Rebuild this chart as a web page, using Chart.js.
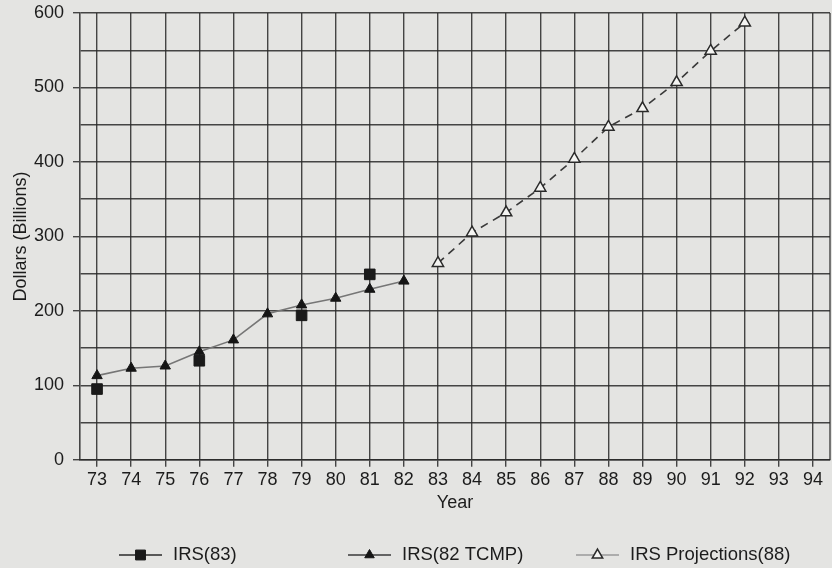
<!DOCTYPE html>
<html>
<head>
<meta charset="utf-8">
<title>IRS estimates</title>
<script src="https://cdn.jsdelivr.net/npm/chart.js@4.4.1/dist/chart.umd.min.js"></script>
<style>
  html, body { margin: 0; padding: 0; background: #e4e4e2; }
  #wrap { width: 832px; height: 568px; }
</style>
</head>
<body>
<div id="wrap"><canvas id="chart" width="832" height="568"></canvas></div>
<script>
// years on the x axis (19xx)
const years = ['73', '74', '75', '76', '77', '78', '79', '80', '81', '82', '83',
               '84', '85', '86', '87', '88', '89', '90', '91', '92', '93', '94'];

// IRS(83) estimates, only a few years
const irs83 = [95, null, null, 133, null, null, 194, null, 249, null, null,
               null, null, null, null, null, null, null, null, null, null, null];

// IRS(82 TCMP) series
const irsTcmp = [113, 123, 126, 145, 161, 196, 208, 217, 229, 240, null,
                 null, null, null, null, null, null, null, null, null, null, null];

// IRS Projections(88)
const irsProj = [null, null, null, null, null, null, null, null, null, null, 264,
                 305, 332, 365, 404, 447, 472, 507, 549, 587, null, null];

// labelled values on the y axis (grid every 50)
const yLabels = [0, 100, 200, 300, 400, 500, 600];

const FONT = '"Liberation Sans", Arial, Helvetica, sans-serif';
const INK = '#1c1c1c';
const GRID = 'rgba(40, 40, 40, 0.85)';

// drop the room chart.js keeps for overhanging end labels
function noOverhang(s) {
    s.paddingLeft = 0;
    s.paddingRight = 0;
    s.paddingTop = 0;
    s.paddingBottom = 0;
}

// frame on the right side of the plot + legend drawn under the axis
const paperPlugin = {
    id: 'paper',
    beforeDatasetsDraw(chart) {
        const { ctx, chartArea } = chart;
        ctx.save();
        ctx.strokeStyle = GRID;
        ctx.lineWidth = 1.4;
        ctx.beginPath();
        ctx.moveTo(chartArea.right, chartArea.top);
        ctx.lineTo(chartArea.right, chartArea.bottom);
        ctx.stroke();
        ctx.restore();
    },
    afterDraw(chart) {
        const ctx = chart.ctx;
        const textX = [173, 402, 630];
        const y = 555;
        ctx.save();
        ctx.font = '18.5px ' + FONT;
        ctx.textBaseline = 'middle';
        ctx.textAlign = 'left';
        chart.data.datasets.forEach((ds, i) => {
            const x1 = textX[i] - 54;
            const x2 = textX[i] - 11;
            ctx.strokeStyle = ds.legendLine;
            ctx.lineWidth = 1.6;
            ctx.setLineDash([]);
            ctx.beginPath();
            ctx.moveTo(x1, y);
            ctx.lineTo(x2, y);
            ctx.stroke();

            ctx.fillStyle = ds.pointBackgroundColor;
            ctx.strokeStyle = ds.pointBorderColor;
            ctx.lineWidth = ds.pointBorderWidth;
            Chart.helpers.drawPoint(ctx, {
                pointStyle: ds.pointStyle,
                radius: ds.pointRadius - 0.5,
                rotation: 0,
                borderWidth: ds.pointBorderWidth
            }, (x1 + x2) / 2, y);

            ctx.fillStyle = INK;
            ctx.fillText(ds.label, textX[i], y);
        });
        ctx.restore();
    }
};

const ctx = document.getElementById('chart').getContext('2d');

new Chart(ctx, {
    type: 'line',
    data: {
        labels: years,
        datasets: [
            {
                label: 'IRS(83)',
                data: irs83,
                showLine: false,
                pointStyle: 'rect',
                pointRadius: 7.5,
                pointBackgroundColor: '#1a1a1a',
                pointBorderColor: '#1a1a1a',
                pointBorderWidth: 1,
                borderColor: '#2a2a2a',
                legendLine: '#2a2a2a'
            },
            {
                label: 'IRS(82 TCMP)',
                data: irsTcmp,
                borderColor: '#767676',
                borderWidth: 1.6,
                pointStyle: 'triangle',
                pointRadius: 6,
                pointBackgroundColor: '#151515',
                pointBorderColor: '#151515',
                pointBorderWidth: 1,
                tension: 0,
                legendLine: '#3a3a3a'
            },
            {
                label: 'IRS Projections(88)',
                data: irsProj,
                borderColor: '#3a3a3a',
                borderWidth: 1.6,
                borderDash: [8, 6],
                pointStyle: 'triangle',
                pointRadius: 6.5,
                pointBackgroundColor: '#f4f4f2',
                pointBorderColor: '#2a2a2a',
                pointBorderWidth: 1.5,
                tension: 0,
                legendLine: '#9a9a9a'
            }
        ]
    },
    options: {
        responsive: false,
        animation: false,
        events: [],
        layout: {
            autoPadding: false, // the big markers would otherwise shrink the plot
            padding: { top: 13, right: 2, bottom: 54, left: 0 }
        },
        plugins: {
            legend: { display: false },
            tooltip: { enabled: false }
        },
        scales: {
            x: {
                offset: true,
                afterFit: noOverhang,
                grid: { offset: false, color: GRID, lineWidth: 1.4, tickLength: 7 },
                border: { color: GRID, width: 1.6 },
                ticks: {
                    autoSkip: false,
                    maxRotation: 0,
                    padding: 2,
                    color: INK,
                    font: { family: FONT, size: 18 }
                },
                title: {
                    display: true,
                    text: 'Year',
                    color: INK,
                    font: { family: FONT, size: 18 },
                    padding: { top: 0, bottom: 0 }
                }
            },
            y: {
                min: 0,
                max: 600,
                afterFit: s => { noOverhang(s); s.width = 80; },
                grid: {
                    color: GRID,
                    lineWidth: 1.4,
                    tickLength: 7,
                    tickColor: c => (c.tick && yLabels.includes(c.tick.value)) ? GRID : 'rgba(0,0,0,0)'
                },
                border: { color: GRID, width: 1.6 },
                ticks: {
                    stepSize: 50,
                    padding: 9,
                    color: INK,
                    font: { family: FONT, size: 18 },
                    callback: v => yLabels.includes(v) ? v : ''
                },
                title: {
                    display: true,
                    text: 'Dollars (Billions)',
                    color: INK,
                    font: { family: FONT, size: 18 },
                    padding: { top: 10, bottom: 3 }
                }
            }
        }
    },
    plugins: [paperPlugin]
});
</script>
</body>
</html>
